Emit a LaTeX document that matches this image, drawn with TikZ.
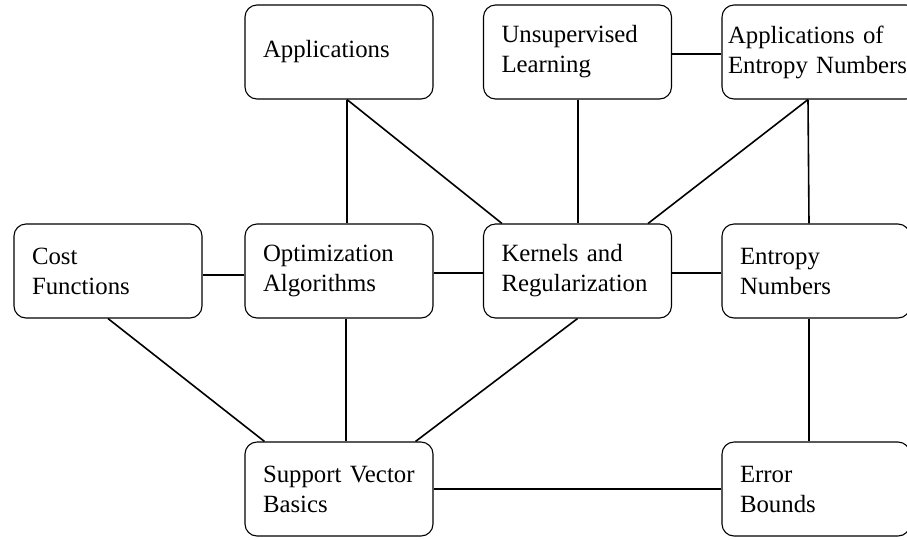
\documentclass[tikz,border=0pt]{standalone}
\usepackage{fontspec}
\setmainfont{Liberation Serif}
\usetikzlibrary{positioning}
\DeclareRobustCommand{\topicfont}{\fontsize{24.8}{30}\selectfont\hyphenpenalty 10000\relax}
\tikzset{
  % --- chapter boxes ---------------------------------------------------
  topic/.style  ={rectangle, rounded corners=12pt, draw, line width=1.1pt,
                  minimum width=188pt, minimum height=94pt, align=left,
                  text width=152pt, inner xsep=18pt, inner ysep=0pt,
                  font=\topicfont},
  widetopic/.style={topic, text width=184pt, inner xsep=6pt},
  % --- dependencies ----------------------------------------------------
  link/.style   ={line width=1.6pt},
}

\begin{document}
\begin{tikzpicture}[x=1pt, y=-1pt]
  \path[use as bounding box, clip] (0,0) rectangle (907,539);

  % ===================== top row =====================
  \node[topic] (app)    at (339,52)   {Applications};
  \node[topic] (unsup)  at (577.5,52) {Unsupervised\\Learning};
  \node[widetopic] (appent) at (820,52) {Applications of\\Entropy Numbers};

  % ===================== middle row =====================
  \node[topic] (cost) at (108,271)   {Cost\\Functions};
  \node[topic] (opt)  at (339,271)   {Optimization\\Algorithms};
  \node[topic] (kern) at (577.5,271) {Kernels and\\Regularization};
  \node[topic] (ent)  at (816,271)   {Entropy\\Numbers};

  % ===================== bottom row =====================
  \node[topic] (svb) at (339,489) {Support Vector\\Basics};
  \node[topic] (err) at (816,489) {Error\\Bounds};

  % ===================== edges =====================
  \draw[link] ([xshift=8pt]app.south) -- ([xshift=8pt]opt.north);
  \draw[link] ([xshift=8pt]app.south) -- ([xshift=19pt]kern.north west);
  \draw[link] ([xshift=0.5pt]unsup.south) -- ([xshift=0.5pt]kern.north);
  \draw[link] ([yshift=-2pt]unsup.east) -- ([yshift=-2pt]appent.west);
  \draw[link] ([xshift=-12pt]appent.south) -- ([xshift=-24pt]kern.north east);
  \draw[link] ([xshift=-12pt]appent.south) -- ([xshift=-7pt]ent.north);
  % middle row
  \draw[link] ([yshift=-4pt]cost.east) -- ([yshift=-4pt]opt.west);
  \draw[link] ([yshift=-2pt]opt.east) -- ([yshift=-2pt]kern.west);
  \draw[link] ([yshift=-2pt]kern.east) -- ([yshift=-2pt]ent.west);
  % into the bottom row
  \draw[link] (cost.south) -- ([xshift=20pt]svb.north west);
  \draw[link] ([xshift=7pt]opt.south) -- ([xshift=7pt]svb.north);
  \draw[link] (kern.south) -- ([xshift=-18pt]svb.north east);
  \draw[link] ([xshift=-7pt]ent.south) -- ([xshift=-7pt]err.north);
  \draw[link] (svb.east) -- (err.west);

\end{tikzpicture}
\end{document}
